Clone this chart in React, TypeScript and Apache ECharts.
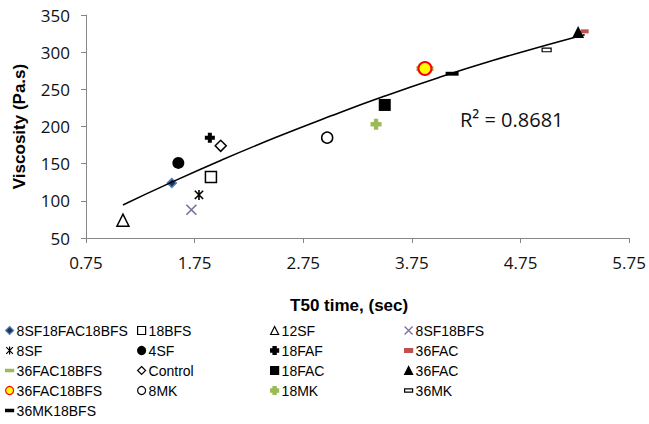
import React, { useEffect, useRef } from 'react';
import * as echarts from 'echarts';

// Sample names (legend order, row-major as in the reference)
const sampleNames = [
  '8SF18FAC18BFS', '18BFS', '12SF', '8SF18BFS',
  '8SF', '4SF', '18FAF', '36FAC',
  '36FAC18BFS', 'Control', '18FAC', '36FAC',
  '36FAC18BFS', '8MK', '18MK', '36MK',
  '36MK18BFS',
];
// T50 time (sec)
const t50Values = [
  1.54, 1.9, 1.09, 1.72,
  1.79, 1.6, 1.89, 5.34,
  3.87, 1.99, 3.5, 5.28,
  3.87, 2.97, 3.42, 4.99,
  4.12,
];
// Viscosity (Pa.s)
const viscosityValues = [
  124, 132, 74, 88,
  108, 151, 185, 328,
  278, 174, 229, 327,
  278, 185, 203, 303,
  271,
];
// Trend line
const trendT50 = [1.09, 1.5, 2.0, 2.5, 3.0, 3.5, 4.0, 4.5, 5.0, 5.34];
const trendViscosity = [94.5, 122.5, 155, 185.5, 214, 241, 266, 289, 310, 323.5];
const rSquaredText = 'R² = 0.8681';

const xMin = 0.75;
const xMax = 5.75;
const xStep = 1;
const yMin = 50;
const yMax = 350;
const yStep = 50;

const DASH = 'path://M0 0H10V3H0Z';
const CROSS = 'path://M0 0L10 10M10 0L0 10';
const STAR = 'path://M0 0L10 10M10 0L0 10M5 -1V11';
const PLUS = 'path://M3 0H7V3H10V7H7V10H3V7H0V3H3Z';

const markerStyles: any[] = [
  { symbol: 'diamond', size: 9, color: '#1F3557', border: '#4F81BD', bw: 1.5 },
  { symbol: 'rect', size: 11, color: '#ffffff', border: '#000000', bw: 1.5 },
  { symbol: 'triangle', size: 12, color: '#ffffff', border: '#000000', bw: 1.5 },
  { symbol: CROSS, size: 10, color: 'transparent', border: '#7E6A9C', bw: 1.6 },
  { symbol: STAR, size: 10, color: 'transparent', border: '#000000', bw: 1.6 },
  { symbol: 'circle', size: 12, color: '#000000', border: '#000000', bw: 0 },
  { symbol: PLUS, size: 10, color: '#000000', border: '#000000', bw: 0 },
  { symbol: 'path://M0 0H10V5H0Z', size: 8, color: '#C0504D', border: '#C0504D', bw: 0 },
  { symbol: DASH, size: 17, color: '#9BBB59', border: '#9BBB59', bw: 0 },
  { symbol: 'diamond', size: 11, color: '#ffffff', border: '#000000', bw: 1.5 },
  { symbol: 'rect', size: 12, color: '#000000', border: '#000000', bw: 0 },
  { symbol: 'triangle', size: 12, color: '#000000', border: '#000000', bw: 0 },
  { symbol: 'circle', size: 13, color: '#FFFF00', border: '#FF0000', bw: 2 },
  { symbol: 'circle', size: 11, color: '#ffffff', border: '#000000', bw: 1.5 },
  { symbol: PLUS, size: 11, color: '#9BBB59', border: '#9BBB59', bw: 0 },
  { symbol: 'path://M0 0H10V4H0Z', size: 9, color: '#ffffff', border: '#000000', bw: 1.2 },
  { symbol: DASH, size: 13, color: '#000000', border: '#000000', bw: 0 },
];

const legendLefts = [5, 137, 270, 404];

export default function App() {
  const ref = useRef<HTMLDivElement>(null);

  useEffect(() => {
    if (!ref.current) return;
    const chart = echarts.init(ref.current, undefined, { renderer: 'svg' });

    const seen: Record<string, number> = {};
    const keys = sampleNames.map((n) => {
      seen[n] = (seen[n] || 0) + 1;
      return seen[n] > 1 ? `${n}#${seen[n]}` : n;
    });

    const scatterSeries = keys.map((key, i) => {
      const st = markerStyles[i];
      return {
        type: 'scatter',
        name: key,
        data: [[t50Values[i], viscosityValues[i]]],
        symbol: st.symbol,
        symbolSize: st.size,
        symbolKeepAspect: true,
        itemStyle: {
          color: st.color,
          borderColor: st.border,
          borderWidth: st.bw,
          opacity: 1,
        },
        z: 2,
        silent: true,
      };
    });

    const legends = legendLefts.map((left, c) => ({
      orient: 'vertical',
      left,
      top: 323.5,
      padding: 0,
      itemGap: 6,
      itemWidth: 8,
      itemHeight: 8,
      itemStyle: { borderWidth: 1.2 },
      selectedMode: false,
      data: keys.filter((_, i) => i % 4 === c),
      formatter: (name: string) => name.replace(/#\d+$/, ''),
      textStyle: {
        fontFamily: 'Liberation Sans, Arial',
        fontSize: 14,
        color: '#000',
        lineHeight: 14,
        padding: [0, 0, 0, -2],
      },
    }));

    chart.setOption({
      animation: false,
      backgroundColor: '#ffffff',
      grid: { left: 86, right: 19, top: 15, bottom: 186, containLabel: false },
      xAxis: {
        type: 'value',
        min: xMin,
        max: xMax,
        interval: xStep,
        name: 'T50 time, (sec)',
        nameLocation: 'middle',
        nameGap: 59,
        nameTextStyle: {
          fontFamily: 'Liberation Sans, Arial',
          fontWeight: 'bold',
          fontSize: 17,
          color: '#000',
          padding: [0, 17, 0, 0],
        },
        axisLine: { show: true, lineStyle: { color: '#868686', width: 1 } },
        axisTick: { show: true, length: 5, lineStyle: { color: '#868686' } },
        splitLine: { show: false },
        axisLabel: {
          margin: 16,
          fontFamily: 'Open Sans',
          fontSize: 17,
          color: '#111',
          formatter: (v: number) => v.toFixed(2),
        },
      },
      yAxis: {
        type: 'value',
        min: yMin,
        max: yMax,
        interval: yStep,
        name: 'Viscosity (Pa.s)',
        nameLocation: 'middle',
        nameGap: 58,
        nameTextStyle: {
          fontFamily: 'Liberation Sans, Arial',
          fontWeight: 'bold',
          fontSize: 17,
          color: '#000',
        },
        axisLine: { show: true, lineStyle: { color: '#868686', width: 1 } },
        axisTick: { show: true, length: 5, lineStyle: { color: '#868686' } },
        splitLine: { show: false },
        axisLabel: {
          margin: 16,
          fontFamily: 'Open Sans',
          fontSize: 17,
          color: '#111',
        },
      },
      legend: legends,
      graphic: [
        {
          type: 'text',
          left: 460,
          top: 109,
          style: {
            text: rSquaredText,
            fontFamily: 'Open Sans',
            fontSize: 20,
            fill: '#111',
          },
        },
      ],
      series: [
        ...scatterSeries,
        {
          type: 'line',
          name: 'trend',
          data: trendT50.map((t, i) => [t, trendViscosity[i]]),
          smooth: true,
          showSymbol: false,
          symbol: 'none',
          lineStyle: { color: '#000', width: 1.6 },
          z: 5,
          silent: true,
        },
      ],
    });

    return () => chart.dispose();
  }, []);

  return (
    <div
      ref={ref}
      style={{ position: 'fixed', left: 0, top: 0, width: 649, height: 424 }}
    />
  );
}
